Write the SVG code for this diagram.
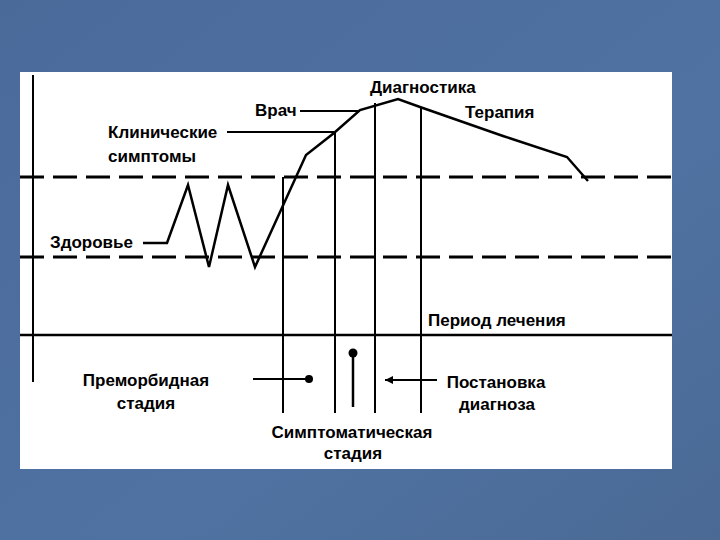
<svg xmlns="http://www.w3.org/2000/svg" width="720" height="540" viewBox="0 0 720 540">
<defs>
<style>
.ln{stroke:#000;stroke-width:2;fill:none}
.th{stroke:#000;stroke-width:2.5;fill:none;stroke-linejoin:miter}
.dash{stroke:#000;stroke-width:3;fill:none;stroke-dasharray:24 9}
text{font-family:"Liberation Sans",Arial,sans-serif;font-weight:bold;font-size:17px;fill:#000}
</style>
<linearGradient id="bg" x1="0" y1="0" x2="1" y2="1">
<stop offset="0" stop-color="#4a6a9a"/>
<stop offset="0.6" stop-color="#4f72a2"/>
<stop offset="1" stop-color="#4a6a94"/>
</linearGradient>
<marker id="ah" viewBox="0 0 10 10" refX="10" refY="5" markerWidth="5" markerHeight="4" orient="auto">
<path d="M0,0 L10,5 L0,10 z" fill="#000"/>
</marker>
</defs>
<rect width="720" height="540" fill="url(#bg)"/>
<rect x="20" y="72" width="652" height="397" fill="#fff"/>

<g id="axes">
<line class="ln" x1="33" y1="75" x2="33" y2="382"/>
<line class="dash" x1="20" y1="177" x2="672" y2="177"/>
<line class="dash" x1="20" y1="257" x2="672" y2="257"/>
<line class="th" x1="20" y1="335" x2="672" y2="335"/>
</g>

<g id="verticals">
<line class="ln" x1="283" y1="177" x2="283" y2="413"/>
<line class="ln" x1="335" y1="133" x2="335" y2="413"/>
<line class="ln" x1="375" y1="103" x2="375" y2="413"/>
<line class="ln" x1="421" y1="107" x2="421" y2="413"/>
</g>

<g id="curve">
<polyline class="th" points="143,243 167,243 188,185 209,267 228,185 255,267 306,155 334,133 360,110 398,99 420,107 503,136 567,157 588,181"/>
</g>

<g id="connectors">
<line class="ln" x1="300" y1="111" x2="358" y2="111"/>
<line class="ln" x1="227" y1="132" x2="334" y2="132"/>
<line class="ln" x1="253" y1="379" x2="308" y2="379"/>
<circle cx="309" cy="379" r="4" fill="#000"/>
<line class="th" x1="353" y1="353" x2="353" y2="407"/>
<circle cx="353" cy="353" r="4.5" fill="#000"/>
<line class="ln" x1="437" y1="380" x2="385" y2="380" marker-end="url(#ah)"/>
</g>

<g id="labels">
<text x="255" y="116">Врач</text>
<text x="108" y="138">Клинические</text>
<text x="108" y="162">симптомы</text>
<text x="50" y="248">Здоровье</text>
<text x="370" y="93">Диагностика</text>
<text x="465" y="118">Терапия</text>
<text x="428" y="326">Период лечения</text>
<text x="146" y="386" text-anchor="middle">Преморбидная</text>
<text x="146" y="409" text-anchor="middle">стадия</text>
<text x="496" y="388" text-anchor="middle">Постановка</text>
<text x="497" y="410" text-anchor="middle">диагноза</text>
<text x="352" y="438" text-anchor="middle">Симптоматическая</text>
<text x="353" y="459" text-anchor="middle">стадия</text>
</g>
</svg>
